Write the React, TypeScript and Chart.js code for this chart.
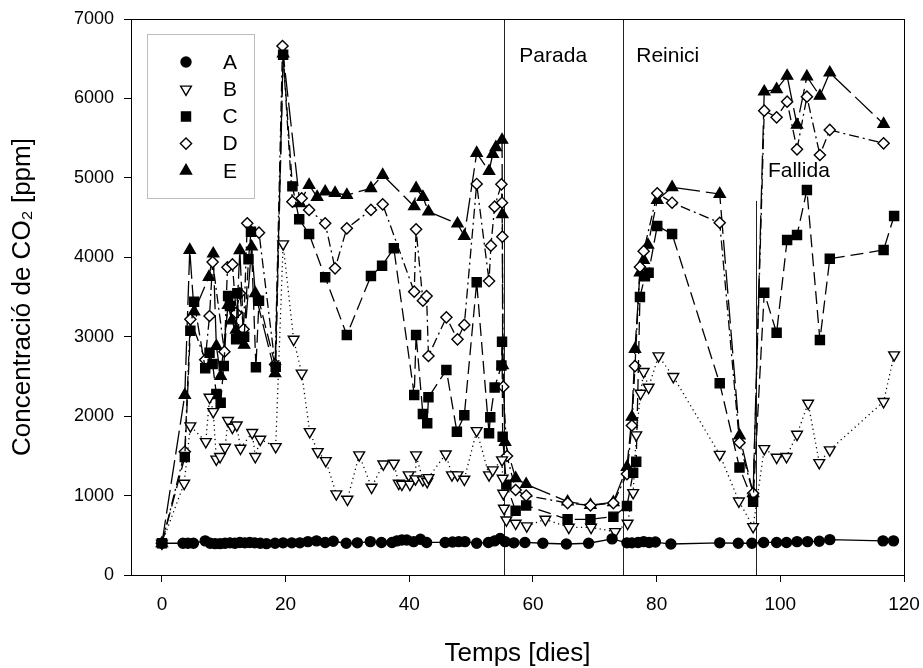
import React, { useEffect, useRef } from 'react';
import { Chart, registerables } from 'chart.js';

Chart.register(...registerables);

// ---------- data (days, ppm) ----------
const aDays = [0, 3.4, 4.2, 5.1, 7.0, 7.8, 8.6, 9.4, 10.2, 11, 11.8, 12.6, 13.4, 14.2, 15, 15.9, 16.9, 18.3, 19.6, 21, 22.3, 23.6, 25, 26.4, 27.7, 29.8, 31.6, 33.7, 35.5, 37.2, 38, 38.8, 39.6, 40.7, 41.8, 42.8, 45.8, 47, 48, 49, 50.9, 52.8, 53.8, 54.7, 55.5, 56.9, 58.7, 61.6, 65.4, 69, 72.8, 75.2, 76, 77, 77.9, 78.8, 79.8, 82.3, 90.2, 93.2, 95.4, 97.3, 99.4, 101, 102.7, 104.4, 106.3, 108, 116.6, 118.3];
const aPpm = [400, 400, 400, 400, 430, 400, 395, 395, 400, 405, 400, 410, 405, 410, 405, 400, 395, 400, 405, 405, 405, 420, 430, 410, 425, 400, 405, 420, 410, 410, 430, 440, 440, 420, 450, 410, 410, 415, 420, 420, 400, 410, 430, 460, 420, 405, 410, 400, 390, 400, 455, 405, 405, 410, 420, 410, 415, 390, 405, 400, 400, 410, 410, 410, 420, 420, 425, 445, 430, 430];

const bDays = [0, 3.6, 4.6, 7.1, 7.7, 8.3, 8.8, 9.4, 10.2, 10.7, 11.4, 12.1, 12.7, 14.6, 15.1, 15.9, 18.4, 19.6, 21.3, 22.6, 23.9, 25.2, 26.5, 28.2, 30, 31.9, 33.9, 35.8, 37.5, 38.3, 38.8, 39.9, 40.1, 41.0, 41.1, 42.2, 42.9, 43.1, 45.9, 46.9, 47.8, 48.9, 50.9, 52.9, 53.5, 55.0, 55.1, 55.2, 55.3, 55.7, 57.2, 59, 62, 65.8, 69.4, 73.3, 75.3, 76.2, 76.7, 77.4, 77.9, 78.7, 80.3, 82.7, 90.2, 93.3, 95.6, 97.4, 99.4, 101, 102.7, 104.5, 106.3, 108, 116.7, 118.4];
const bPpm = [400, 1154, 1876, 1678, 2237, 2056, 1457, 1490, 1607, 1943, 1859, 1888, 1595, 1792, 1490, 1708, 1615, 4167, 2967, 2540, 1804, 1552, 1439, 1020, 953, 1511, 1104, 1397, 1406, 1154, 1142, 1259, 1142, 1209, 1511, 1196, 1175, 1225, 1523, 1259, 1259, 1205, 1817, 1259, 1322, 1448, 1217, 1028, 840, 692, 651, 617, 701, 600, 600, 545, 651, 1036, 1763, 2287, 2560, 2363, 2757, 2497, 1517, 930, 608, 1590, 1482, 1490, 1771, 2162, 1414, 1574, 2183, 2770];

const cDays = [0, 3.7, 4.6, 5.2, 7.0, 7.7, 8.2, 8.8, 9.5, 10.0, 10.7, 11.0, 12.0, 12.2, 12.5, 13.3, 14.0, 14.4, 15.2, 15.7, 18.4, 19.6, 21.1, 22.2, 23.8, 26.4, 29.9, 33.8, 35.6, 37.5, 40.8, 41.1, 42.2, 42.9, 43.1, 46.0, 47.7, 48.9, 50.9, 52.9, 53.1, 53.8, 54.9, 55.0, 55.1, 55.7, 57.2, 58.9, 65.6, 69.3, 73.0, 75.2, 76.2, 76.7, 77.3, 78.1, 78.7, 80.1, 82.5, 90.2, 93.4, 95.6, 97.4, 99.4, 101.1, 102.7, 104.3, 106.4, 108, 116.7, 118.4];
const cPpm = [400, 1485, 3076, 3441, 2602, 2799, 2656, 2279, 2169, 2631, 3512, 3387, 2967, 3546, 2980, 3000, 3975, 4322, 2615, 3453, 2620, 6550, 4893, 4478, 4293, 3748, 3022, 3764, 3894, 4113, 2266, 3022, 2027, 1910, 2237, 2581, 1804, 2010, 3685, 1784, 1985, 2360, 2637, 2937, 1741, 1138, 809, 875, 701, 701, 734, 869, 1288, 1427, 3500, 3760, 3806, 4394, 4293, 2413, 1353, 923, 3554, 3050, 4218, 4281, 4847, 2958, 3981, 4092, 4520];

const dDays = [0, 3.7, 4.6, 7.0, 7.7, 8.2, 10.1, 10.6, 11.4, 12.0, 12.6, 13.2, 13.8, 15.7, 18.3, 19.5, 21.1, 22.6, 23.8, 26.4, 28, 29.9, 33.8, 35.7, 40.8, 41.1, 42.2, 42.8, 43.1, 46, 47.8, 48.9, 50.9, 52.9, 53.2, 53.8, 54.9, 55.0, 55.05, 55.2, 55.8, 57.2, 58.9, 65.6, 69.3, 73, 75.2, 76, 76.5, 77.3, 77.9, 80.1, 82.5, 90.2, 93.4, 95.6, 97.4, 99.4, 101.1, 102.7, 104.3, 106.4, 108, 116.7];
const dPpm = [400, 1552, 3219, 2710, 3261, 3940, 2812, 3874, 3910, 3300, 3546, 3093, 4428, 4310, 2650, 6660, 4700, 4743, 4596, 4428, 3861, 4365, 4596, 4667, 3567, 4352, 3454, 3512, 2757, 3244, 2967, 3148, 4923, 3701, 4146, 4637, 4919, 4687, 4259, 2371, 1498, 1070, 1000, 906, 875, 906, 1271, 1882, 2630, 3878, 4077, 4805, 4687, 4435, 1666, 1028, 5846, 5762, 5959, 5359, 6022, 5288, 5603, 5435];

const eDays = [0, 3.7, 4.5, 5.2, 7.6, 8.3, 8.8, 9.5, 10.7, 11.3, 12.0, 12.6, 13.3, 14.5, 15.1, 18.3, 19.6, 22.3, 23.8, 25.1, 26.4, 28, 29.9, 33.8, 35.7, 40.8, 41.1, 42.2, 43.1, 47.8, 48.9, 50.9, 52.9, 53.5, 54.0, 55.0, 55.05, 55.1, 55.5, 57.2, 58.9, 65.6, 69.3, 73, 75.2, 76, 76.5, 77.3, 77.9, 78.6, 80.1, 82.5, 90.2, 93.4, 95.6, 97.4, 99.4, 101.1, 102.7, 104.3, 106.4, 108, 116.7];
const ePpm = [400, 2266, 4092, 3315, 3752, 4045, 2883, 2505, 3399, 3202, 3085, 4088, 2896, 4133, 3546, 2539, 6563, 4680, 4910, 4759, 4826, 4809, 4784, 4868, 5036, 4640, 4868, 4759, 4574, 4423, 4268, 5313, 5084, 5300, 5384, 5477, 4540, 2640, 1672, 1217, 1143, 923, 881, 916, 1360, 1990, 2844, 3806, 3966, 4155, 4721, 4881, 4797, 1756, 1028, 6085, 6115, 6283, 5666, 6274, 6031, 6324, 5678];

const seriesNames = ['A', 'B', 'C', 'D', 'E'];
const xTickValues = [0, 20, 40, 60, 80, 100, 120];
const yTickValues = [0, 1000, 2000, 3000, 4000, 5000, 6000, 7000];
const phaseDays = [55.3, 74.6, 96.0];
const phaseTopPpm = [7000, 7000, 4710];
const phaseNames = ['Parada', 'Reinici', 'Fallida'];
const phaseNameDays = [57.8, 76.7, 98.0];
const phaseNamePpm = [6460, 6460, 5010];

const MAIN_FONT = '"Liberation Sans", Arial, sans-serif';

const toPoints = (xs: number[], ys: number[]) => xs.map((x, i) => ({ x, y: ys[i] }));

type Sty = { style: string; rot: number; r: number; fill: string; dash: number[]; };
const styles: Sty[] = [
  { style: 'circle', rot: 0, r: 5, fill: '#000', dash: [] },
  { style: 'triangle', rot: 180, r: 6.2, fill: '#fff', dash: [1.2, 3.5] },
  { style: 'rect', rot: 0, r: 6.4, fill: '#000', dash: [13, 6] },
  { style: 'rectRot', rot: 0, r: 5.6, fill: '#fff', dash: [10, 4, 2, 4] },
  { style: 'triangle', rot: 0, r: 6.4, fill: '#000', dash: [24, 6] },
];

function drawMarker(ctx: CanvasRenderingContext2D, s: Sty, x: number, y: number) {
  ctx.save();
  ctx.beginPath();
  ctx.fillStyle = s.fill;
  ctx.strokeStyle = '#000';
  ctx.lineWidth = 1.4;
  ctx.setLineDash([]);
  const r = s.r;
  if (s.style === 'circle') {
    ctx.arc(x, y, r, 0, Math.PI * 2);
  } else if (s.style === 'rect') {
    const h = r * Math.SQRT1_2;
    ctx.rect(x - h, y - h, 2 * h, 2 * h);
  } else if (s.style === 'rectRot') {
    ctx.moveTo(x, y - r); ctx.lineTo(x + r, y); ctx.lineTo(x, y + r); ctx.lineTo(x - r, y); ctx.closePath();
  } else {
    let a = (s.rot * Math.PI) / 180;
    for (let k = 0; k < 3; k++) {
      const px = x + Math.sin(a) * r, py = y - Math.cos(a) * r;
      if (k === 0) ctx.moveTo(px, py); else ctx.lineTo(px, py);
      a += (2 * Math.PI) / 3;
    }
    ctx.closePath();
  }
  ctx.fill();
  ctx.stroke();
  ctx.restore();
}

const decorPlugin = {
  id: 'decor',
  beforeDatasetsDraw(chart: any) {
    const { ctx, scales } = chart;
    const xs = scales.x, ys = scales.y;
    ctx.save();
    ctx.strokeStyle = '#222';
    ctx.lineWidth = 1;
    phaseDays.forEach((d, i) => {
      const px = Math.round(xs.getPixelForValue(d)) + 0.5;
      ctx.beginPath();
      ctx.moveTo(px, ys.getPixelForValue(0));
      ctx.lineTo(px, ys.getPixelForValue(phaseTopPpm[i]));
      ctx.stroke();
    });
    ctx.restore();
  },
  afterDraw(chart: any) {
    const { ctx, chartArea, scales } = chart;
    const xs = scales.x, ys = scales.y;
    ctx.save();
    ctx.strokeStyle = '#000';
    ctx.lineWidth = 1;
    ctx.strokeRect(Math.round(chartArea.left) + 0.5, Math.round(chartArea.top) + 0.5,
      Math.round(chartArea.right - chartArea.left), Math.round(chartArea.bottom - chartArea.top));
    ctx.fillStyle = '#000';
    ctx.font = `21px ${MAIN_FONT}`;
    ctx.textBaseline = 'alphabetic';
    ctx.textAlign = 'left';
    phaseNames.forEach((t, i) => {
      ctx.fillText(t, xs.getPixelForValue(phaseNameDays[i]), ys.getPixelForValue(phaseNamePpm[i]));
    });
    const lx = 147.5, ly = 34.5, lw = 107, lh = 164;
    ctx.fillStyle = '#fff';
    ctx.fillRect(lx, ly, lw, lh);
    ctx.strokeStyle = '#bdbdbd';
    ctx.lineWidth = 1;
    ctx.strokeRect(lx, ly, lw, lh);
    ctx.font = `21px ${MAIN_FONT}`;
    ctx.textAlign = 'center';
    ctx.textBaseline = 'middle';
    seriesNames.forEach((n, i) => {
      const y = 62 + i * 27.2;
      drawMarker(ctx, styles[i], 186, y);
      ctx.fillStyle = '#000';
      ctx.fillText(n, 230, y + 1);
    });
    ctx.restore();
  },
};

export default function App() {
  const ref = useRef<HTMLCanvasElement | null>(null);
  useEffect(() => {
    document.body.style.margin = '0';
    const canvas = ref.current;
    if (!canvas) return;
    const all = [[aDays, aPpm], [bDays, bPpm], [cDays, cPpm], [dDays, dPpm], [eDays, ePpm]];
    const datasets = all.map(([xs, ys], i) => ({
      label: seriesNames[i],
      data: toPoints(xs as number[], ys as number[]),
      showLine: true,
      borderColor: '#000',
      borderWidth: 1.3,
      borderDash: styles[i].dash,
      pointStyle: styles[i].style,
      rotation: styles[i].rot,
      pointRadius: styles[i].r,
      pointBackgroundColor: styles[i].fill,
      pointBorderColor: '#000',
      pointBorderWidth: 1.4,
      pointHoverRadius: styles[i].r,
      tension: 0,
      fill: false,
    }));
    const chart = new Chart(canvas, {
      type: 'scatter',
      data: { datasets },
      plugins: [decorPlugin],
      options: {
        animation: false,
        responsive: false,
        maintainAspectRatio: false,
        layout: { padding: { left: 0, top: 19, right: 19, bottom: 0 } },
        plugins: { legend: { display: false }, tooltip: { enabled: false } },
        scales: {
          x: {
            type: 'linear',
            min: -5,
            max: 120,
            afterBuildTicks: (s: any) => { s.ticks = xTickValues.map((v) => ({ value: v })); },
            afterFit: (s: any) => { s.height = 93; s.paddingLeft = 0; s.paddingRight = 0; },
            grid: { display: true, drawOnChartArea: false, drawTicks: true, tickLength: 7, color: '#000', lineWidth: 1 },
            border: { display: true, color: '#000', width: 1 },
            ticks: { color: '#000', font: { family: MAIN_FONT, size: 19 }, padding: 11, maxRotation: 0, autoSkip: false, callback: (v: any) => String(v) },
            title: { display: true, text: 'Temps [dies]', color: '#000', font: { family: MAIN_FONT, size: 26, lineHeight: 1 }, padding: { top: 0, bottom: 1 } },
          },
          y: {
            type: 'linear',
            min: 0,
            max: 7000,
            afterBuildTicks: (s: any) => { s.ticks = yTickValues.map((v) => ({ value: v })); },
            afterFit: (s: any) => { s.width = 131; s.paddingTop = 0; s.paddingBottom = 0; },
            grid: { display: true, drawOnChartArea: false, drawTicks: true, tickLength: 7, color: '#000', lineWidth: 1 },
            border: { display: true, color: '#000', width: 1 },
            ticks: { color: '#000', font: { family: MAIN_FONT, size: 18 }, padding: 10, callback: (v: any) => String(v) },
            title: { display: true, text: 'Concentració de CO₂ [ppm]', color: '#000', font: { family: MAIN_FONT, size: 26, lineHeight: 1 }, padding: { top: 10, bottom: 0 } },
          },
        },
      } as any,
    });
    return () => chart.destroy();
  }, []);
  return (
    <div style={{ width: 923, height: 668, background: '#fff' }}>
      <canvas ref={ref} width={923} height={668} style={{ display: 'block' }} />
    </div>
  );
}
